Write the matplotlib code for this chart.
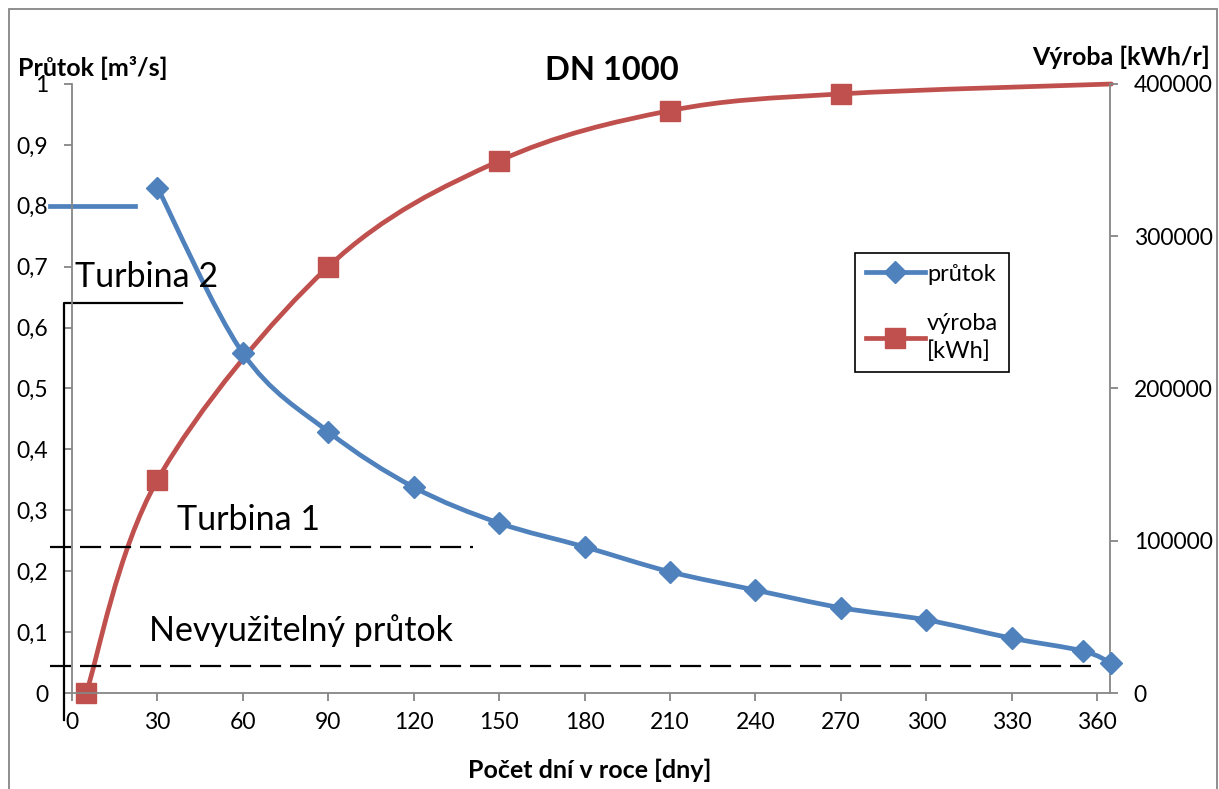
import matplotlib
matplotlib.use("Agg")
import matplotlib.pyplot as plt
from matplotlib.path import Path
from matplotlib.patches import PathPatch, Rectangle
from matplotlib.lines import Line2D
from matplotlib.ticker import FuncFormatter, MultipleLocator

plt.rcParams["font.family"] = ["Lato", "DejaVu Sans"]

# data
prutok_dny = [30, 60, 90, 120, 150, 180, 210, 240, 270, 300, 330, 355, 365]
prutok = [0.83, 0.558, 0.429, 0.338, 0.279, 0.240, 0.199, 0.169, 0.140, 0.120, 0.090, 0.069, 0.049]

vyroba_dny = [5, 30, 90, 150, 210, 270, 365]
vyroba = [0, 140000, 280000, 349500, 382500, 393500, 400000]

# annotation levels (m3/s)
turbina1 = 0.24
nevyuzitelny = 0.045
turbina2 = 0.64
prutok_max = 0.8

BLUE = "#4F81BD"
RED = "#C0504D"
GRAY = "#868686"


def smooth_path(xs, ys):
    # Excel-like smoothed line: Catmull-Rom segments as cubic Bezier curves
    pts = list(zip(xs, ys))
    verts = [pts[0]]
    codes = [Path.MOVETO]
    n = len(pts)
    for i in range(n - 1):
        p0 = pts[i - 1] if i > 0 else pts[i]
        p1 = pts[i]
        p2 = pts[i + 1]
        p3 = pts[i + 2] if i + 2 < n else pts[i + 1]
        c1 = (p1[0] + (p2[0] - p0[0]) / 6, p1[1] + (p2[1] - p0[1]) / 6)
        c2 = (p2[0] - (p3[0] - p1[0]) / 6, p2[1] - (p3[1] - p1[1]) / 6)
        verts += [c1, c2, p2]
        codes += [Path.CURVE4] * 3
    return Path(verts, codes)


def main():
    fig = plt.figure(figsize=(12.19, 7.89), dpi=100)
    ax = fig.add_axes([72 / 1219, 1 - 693 / 789, (1110 - 72) / 1219, (693 - 84) / 789])
    ax2 = ax.twinx()

    ax.set_xlim(0, 364.5)
    ax.set_ylim(0, 1)
    ax2.set_ylim(0, 400000)

    ax.set_zorder(ax2.get_zorder() + 1)
    ax.patch.set_visible(False)

    # smoothed curves
    ax2.add_patch(PathPatch(smooth_path(vyroba_dny, vyroba), fill=False,
                            edgecolor=RED, lw=3.4, capstyle="round", clip_on=False))
    ax2.plot(vyroba_dny[:-1], vyroba[:-1], ls="none", marker="s", ms=14,
             color=RED, clip_on=False, zorder=3)
    ax.add_patch(PathPatch(smooth_path(prutok_dny, prutok), fill=False,
                           edgecolor=BLUE, lw=3.4, capstyle="round", clip_on=False))
    ax.plot(prutok_dny, prutok, ls="none", marker="D", ms=11,
            color=BLUE, clip_on=False, zorder=3)

    # drawn shapes around the turbines
    ax.plot([-2.8, -2.8, 38.6], [-0.044, turbina2, turbina2], color="black",
            lw=1.6, clip_on=False)
    ax.plot([-7.7, 140.7], [turbina1, turbina1], color="black", lw=1.6,
            dashes=(9.5, 4), clip_on=False)
    ax.plot([-7.7, 358], [nevyuzitelny, nevyuzitelny], color="black", lw=1.6,
            dashes=(9.5, 4), clip_on=False)
    ax.plot([-7.7, 22], [prutok_max, prutok_max], color=BLUE, lw=3.4,
            clip_on=False)

    ax.text(1.0, 0.683, "Turbina 2", fontsize=24.5, va="center", ha="left")
    ax.text(37.0, 0.284, "Turbina 1", fontsize=24.5, va="center", ha="left")
    ax.text(27.2, 0.103, "Nevyužitelný průtok", fontsize=24.5, va="center", ha="left")

    # axes styling
    for a in (ax, ax2):
        for s in a.spines.values():
            s.set_visible(False)
    ax.spines["left"].set_visible(True)
    ax.spines["bottom"].set_visible(True)
    ax2.spines["right"].set_visible(True)
    for s in (ax.spines["left"], ax.spines["bottom"], ax2.spines["right"]):
        s.set_color(GRAY)
        s.set_linewidth(1.3)

    ax.xaxis.set_major_locator(MultipleLocator(30))
    ax.yaxis.set_major_locator(MultipleLocator(0.1))
    ax2.yaxis.set_major_locator(MultipleLocator(100000))
    ax.yaxis.set_major_formatter(FuncFormatter(lambda v, p: f"{v:.1f}".replace(".", ",").replace(",0", "")))
    ax2.yaxis.set_major_formatter(FuncFormatter(lambda v, p: f"{int(round(v))}"))

    ax.tick_params(axis="y", direction="out", length=6, width=1.3, color=GRAY,
                   labelsize=16.5, pad=11)
    ax.tick_params(axis="x", direction="out", length=6, width=1.3, color=GRAY,
                   labelsize=16.5, pad=8)
    ax2.tick_params(axis="y", direction="out", length=6, width=1.3, color=GRAY,
                    labelsize=16.5, pad=11)

    # legend
    handles = [
        Line2D([], [], color=BLUE, lw=3.4, marker="D", ms=11),
        Line2D([], [], color=RED, lw=3.4, marker="s", ms=14),
    ]
    leg = fig.legend(handles, ["průtok", "výroba\n[kWh]"], loc="upper left",
                     bbox_to_anchor=(855 / 1219, 1 - 253 / 789), fontsize=17,
                     frameon=True, fancybox=False, edgecolor="black", framealpha=1,
                     handlelength=2.5, handletextpad=0.1, labelspacing=1.2,
                     borderpad=0.45, borderaxespad=0)
    leg.get_frame().set_linewidth(1.2)
    for t in leg.get_texts():
        t.set_linespacing(1.35)

    # titles and axis labels
    fig.text(612 / 1219, 1 - 70 / 789, "DN 1000", fontsize=23.5, fontweight="bold",
             ha="center", va="center")
    fig.text(18 / 1219, 1 - 68 / 789, "Průtok [m³/s]", fontsize=18,
             fontweight="bold", ha="left", va="center")
    fig.text(1210 / 1219, 1 - 57 / 789, "Výroba [kWh/r]", fontsize=18,
             fontweight="bold", ha="right", va="center")
    fig.text(590 / 1219, 1 - 770 / 789, "Počet dní v roce [dny]", fontsize=18,
             fontweight="bold", ha="center", va="center")

    # outer chart frame
    fig.patches.append(Rectangle((9 / 1219, -0.02), (1217 - 9) / 1219, 1.02 - 9 / 789,
                                 transform=fig.transFigure, fill=False,
                                 edgecolor=GRAY, lw=1.3))

    fig.savefig("out.png", dpi=100)


if __name__ == "__main__":
    main()
